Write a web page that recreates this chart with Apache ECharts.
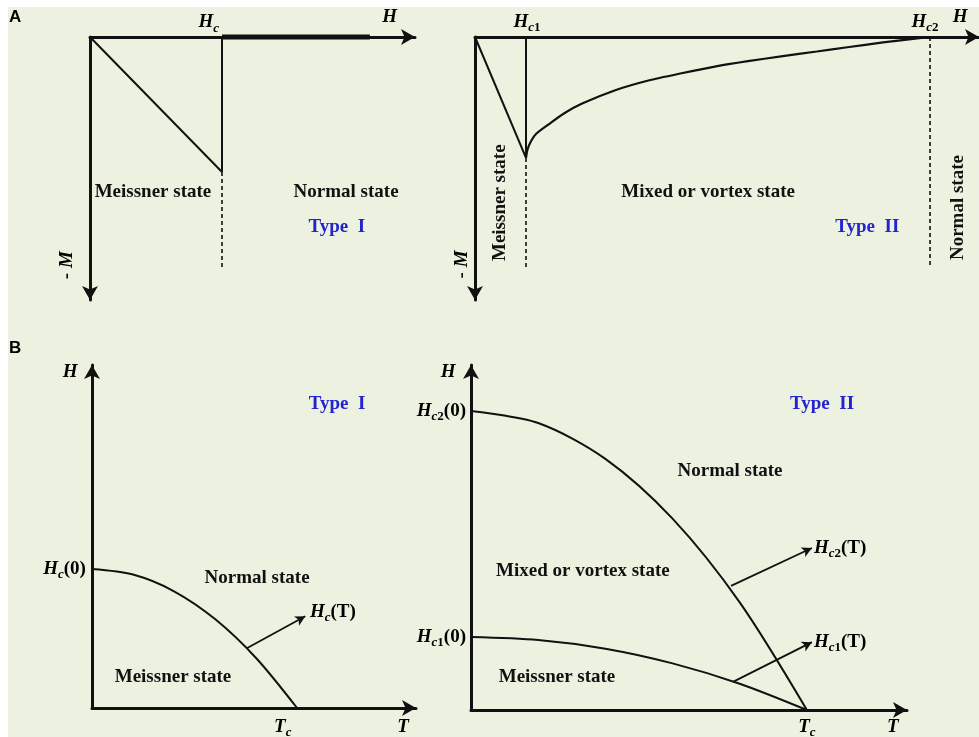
<!DOCTYPE html>
<html>
<head>
<meta charset="utf-8">
<script src="https://cdn.jsdelivr.net/npm/echarts@6/dist/echarts.min.js"></script>
<style>
html, body { margin: 0; padding: 0; background: #fff; }
#main { width: 979px; height: 737px; background: linear-gradient(#edf2e0, #edf2e0) no-repeat 8px 7px / 100% 100%; }
</style>
</head>
<body>
<div id="main"></div>
<script>
// ---- A: -M versus H (units: Hc or Hc1 = 1, -M at Hc = 1) ----
var meissnerI = [[0, 0], [1, 1]];
var dropI = [[1, 1], [1, 0]];
var normalI = [[1, 0], [2.12, 0]];
var hcDashI = [[1, 1], [1, 1.71]];

var meissnerII = [[0, 0], [1, 1]];
var hc1LineII = [[1, 0], [1, 1]];
var hc1DashII = [[1, 1], [1, 1.91]];
var hc2DashII = [[8.92, 0], [8.92, 1.91]];
var mixedH = [1, 1.03, 1.1, 1.2, 1.45, 1.75, 2.1, 2.75, 3.4, 4.05, 4.7, 5.35, 6.0, 6.7, 7.3, 8.0, 8.92];
var mixedM = [1, 0.93, 0.86, 0.80, 0.72, 0.63, 0.55, 0.44, 0.36, 0.30, 0.245, 0.20, 0.16, 0.12, 0.085, 0.045, 0];

// ---- B: phase diagrams (T / Tc, H / H(0)) ----
var tempB = [0, 0.2, 0.4, 0.6, 0.8, 1.0];
var hcI = [1, 0.96, 0.84, 0.64, 0.36, 0];
var hc2II = [1, 0.96, 0.84, 0.64, 0.36, 0];
var hc1II = [0.244, 0.234, 0.205, 0.156, 0.088, 0];

// pointer arrows [from, to]
var arrowHcI = [[0.755, 0.43], [1.04, 0.66]];
var arrowHc2 = [[0.774, 0.415], [1.015, 0.542]];
var arrowHc1 = [[0.78, 0.094], [1.015, 0.227]];

// annotations: [x, y, text]
var notesA1 = [
    [0.90, -0.11, '{h|H}{s|c}'],
    [2.27, -0.15, '{h|H}'],
    [0.477, 1.148, '{t|Meissner state}'],
    [1.94, 1.148, '{t|Normal state}'],
    [1.87, 1.407, '{b|Type  I}']
];
var notesA2 = [
    [1.02, -0.124, '{h|H}{s|c}{d|1}'],
    [8.82, -0.124, '{h|H}{s|c}{d|2}'],
    [9.51, -0.165, '{h|H}'],
    [4.57, 1.28, '{t|Mixed or vortex state}'],
    [7.69, 1.57, '{b|Type  II}']
];
var rotA1 = [[-0.174, 1.69, '{n|- }{h|M}']];
var rotA2 = [
    [-0.255, 1.88, '{n|- }{h|M}'],
    [0.49, 1.37, '{t|Meissner state}'],
    [9.47, 1.41, '{t|Normal state}']
];
var notesB1 = [
    [-0.107, 2.417, '{h|H}'],
    [0.805, 0.935, '{t|Normal state}'],
    [0.395, 0.223, '{t|Meissner state}'],
    [0.93, -0.137, '{h|T}{s|c}'],
    [1.517, -0.137, '{h|T}'],
    [1.195, 2.187, '{b|Type  I}']
];
var rightB1 = [[-0.03, 1.0, '{h|H}{s|c}{n|(0)}']];
var leftB1 = [[1.063, 0.69, '{h|H}{s|c}{n|(T)}']];
var notesB2 = [
    [-0.068, 1.130, '{h|H}'],
    [0.771, 0.80, '{t|Normal state}'],
    [0.333, 0.465, '{t|Mixed or vortex state}'],
    [0.256, 0.110, '{t|Meissner state}'],
    [1.0, -0.057, '{h|T}{s|c}'],
    [1.256, -0.057, '{h|T}'],
    [1.045, 1.023, '{b|Type  II}']
];
var rightB2 = [
    [-0.015, 1.0, '{h|H}{s|c}{d|2}{n|(0)}'],
    [-0.015, 0.244, '{h|H}{s|c}{d|1}{n|(0)}']
];
var leftB2 = [
    [1.021, 0.542, '{h|H}{s|c}{d|2}{n|(T)}'],
    [1.021, 0.227, '{h|H}{s|c}{d|1}{n|(T)}']
];

var FONT = '"Liberation Serif", "Times New Roman", serif';
var INK = '#111';
var rich = {
    h: { fontFamily: FONT, fontStyle: 'italic', fontWeight: 'bold', fontSize: 19, color: '#000' },
    s: { fontFamily: FONT, fontStyle: 'italic', fontWeight: 'bold', fontSize: 13, color: '#000', padding: [12, 0, 0, 0] },
    d: { fontFamily: FONT, fontWeight: 'bold', fontSize: 13, color: '#000', padding: [12, 0, 0, 0] },
    n: { fontFamily: FONT, fontWeight: 'bold', fontSize: 19, color: '#000' },
    t: { fontFamily: FONT, fontWeight: 'bold', fontSize: 19, color: '#111' },
    b: { fontFamily: FONT, fontWeight: 'bold', fontSize: 19, color: '#2323d0' }
};

function zip(xs, ys) {
    return xs.map(function (x, i) { return [x, ys[i]]; });
}

function axis(idx, min, max, pos, inverse) {
    return {
        gridIndex: idx, type: 'value', min: min, max: max, position: pos, inverse: !!inverse,
        axisLine: {
            show: true, onZero: false,
            lineStyle: { color: INK, width: 3 },
            // an inverse axis puts its "start" symbol at the far end
            symbol: inverse ? ['arrow', 'none'] : ['none', 'arrow'],
            symbolSize: [12, 14]
        },
        axisTick: { show: false },
        axisLabel: { show: false },
        splitLine: { show: false }
    };
}

function line(idx, data, width, extra) {
    var s = {
        type: 'line', xAxisIndex: idx, yAxisIndex: idx, data: data,
        symbol: 'none', silent: true, clip: false, z: 3,
        lineStyle: { color: INK, width: width }
    };
    for (var k in extra) s[k] = extra[k];
    return s;
}

function dashed(idx, data) {
    return line(idx, data, 1.6, { lineStyle: { color: INK, width: 1.6, type: [4, 3] } });
}

function pointer(pair) {
    return {
        silent: true, symbol: ['none', 'arrow'], symbolSize: [8, 10],
        lineStyle: { color: INK, width: 1.8, type: 'solid' },
        label: { show: false },
        data: [[{ coord: pair[0] }, { coord: pair[1] }]]
    };
}

function notes(idx, list, pos, rotate) {
    return {
        type: 'scatter', xAxisIndex: idx, yAxisIndex: idx, silent: true, clip: false,
        symbolSize: 0, itemStyle: { color: 'rgba(0,0,0,0)' }, z: 5,
        data: list.map(function (n) {
            return {
                value: [n[0], n[1]],
                label: {
                    show: true, position: pos, distance: 0, rotate: rotate || 0,
                    formatter: n[2], rich: rich, color: '#000',
                    textBorderWidth: 0, opacity: 1
                }
            };
        })
    };
}

var chart = echarts.init(document.getElementById('main'), null, { renderer: 'canvas' });

var option = {
    animation: false,
    backgroundColor: 'transparent',
    grid: [
        { left: 90, top: 37, width: 325, height: 263, outerBoundsMode: 'none' },
        { left: 475, top: 37, width: 504, height: 263, outerBoundsMode: 'none' },
        { left: 92, top: 365, width: 324, height: 343, outerBoundsMode: 'none' },
        { left: 471, top: 365, width: 436, height: 345, outerBoundsMode: 'none' }
    ],
    xAxis: [
        axis(0, 0, 2.462, 'top'),
        axis(1, 0, 9.88, 'top'),
        axis(2, 0, 1.580, 'bottom'),
        axis(3, 0, 1.298, 'bottom')
    ],
    yAxis: [
        axis(0, 0, 1.948, 'left', true),
        axis(1, 0, 2.174, 'left', true),
        axis(2, 0, 2.468, 'left'),
        axis(3, 0, 1.154, 'left')
    ],
    graphic: [
        { type: 'text', left: 9, top: 9, style: { text: 'A', font: 'bold 17px "Liberation Sans", Arial, sans-serif', fill: '#000' } },
        { type: 'text', left: 9, top: 340, style: { text: 'B', font: 'bold 17px "Liberation Sans", Arial, sans-serif', fill: '#000' } }
    ],
    series: [
        // A, type I
        line(0, meissnerI, 2),
        line(0, dropI, 2),
        line(0, normalI, 5),
        dashed(0, hcDashI),
        notes(0, notesA1, 'inside'),
        notes(0, rotA1, 'inside', 90),
        // A, type II
        line(1, meissnerII, 2),
        line(1, hc1LineII, 2),
        dashed(1, hc1DashII),
        dashed(1, hc2DashII),
        line(1, zip(mixedH, mixedM), 2.2, { smooth: 0.25 }),
        notes(1, notesA2, 'inside'),
        notes(1, rotA2, 'inside', 90),
        // B, type I
        line(2, zip(tempB, hcI), 2, { smooth: 0.3, markLine: pointer(arrowHcI) }),
        notes(2, notesB1, 'inside'),
        notes(2, rightB1, 'left'),
        notes(2, leftB1, 'right'),
        // B, type II
        line(3, zip(tempB, hc2II), 2, { smooth: 0.3, markLine: pointer(arrowHc2) }),
        line(3, zip(tempB, hc1II), 2, { smooth: 0.3, markLine: pointer(arrowHc1) }),
        notes(3, notesB2, 'inside'),
        notes(3, rightB2, 'left'),
        notes(3, leftB2, 'right')
    ]
};

chart.setOption(option);
</script>
</body>
</html>
